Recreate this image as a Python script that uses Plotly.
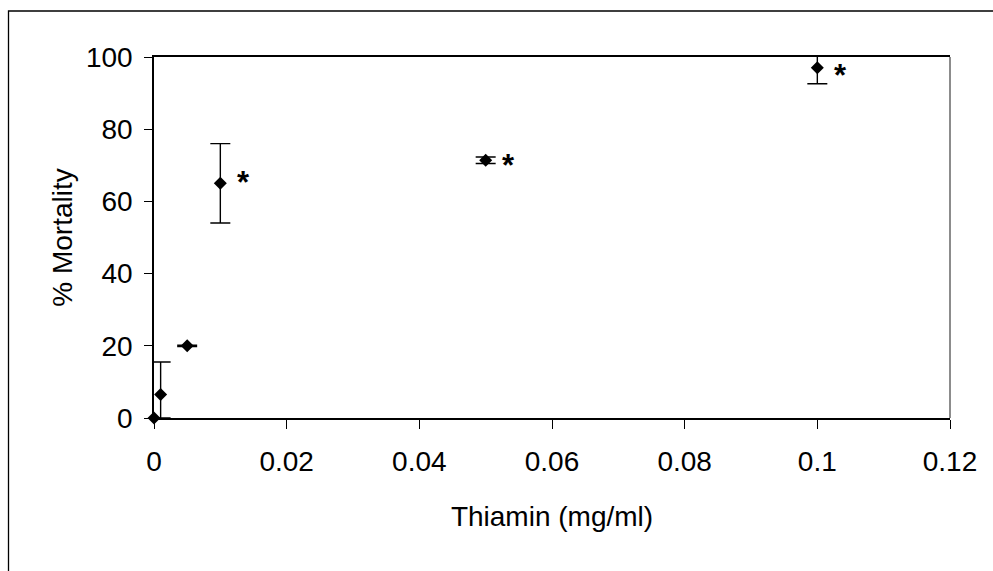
import plotly.graph_objects as go

# Data
thiamin = [0, 0.001, 0.005, 0.01, 0.05, 0.1]          # mg/ml
mortality = [0, 6.5, 20, 65, 71.4, 97]                # % mortality
err_plus = [0, 9.0, 0.2, 11.0, 0.9, 4.4]
err_minus = [0, 6.5, 0.2, 11.0, 0.9, 4.4]
significant = [False, False, False, True, True, True]

x_ticks = [0, 0.02, 0.04, 0.06, 0.08, 0.1, 0.12]
x_tick_labels = ["0", "0.02", "0.04", "0.06", "0.08", "0.1", "0.12"]
y_ticks = [0, 20, 40, 60, 80, 100]

# vertical pixel nudges of the asterisks (style, not data)
asterisk_dy = [0, 0, 0, 1, -5, -8]

FONT = "Liberation Sans, Arial, sans-serif"
FS = 28
W, H = 993, 571
ML, MR, MT, MB = 154, 43, 57, 153

fig = go.Figure()

# error bars (only points that have an error)
ex = [x for x, p in zip(thiamin, err_plus) if p > 0]
ey = [y for y, p in zip(mortality, err_plus) if p > 0]
ep = [p for p in err_plus if p > 0]
em = [m for m, p in zip(err_minus, err_plus) if p > 0]
fig.add_trace(go.Scatter(
    x=ex, y=ey, mode="markers",
    marker=dict(size=1, color="rgba(0,0,0,0)"),
    error_y=dict(type="data", symmetric=False, array=ep, arrayminus=em,
                 color="black", thickness=1.4, width=10),
    cliponaxis=False, showlegend=False, hoverinfo="skip",
))

# markers
fig.add_trace(go.Scatter(
    x=thiamin, y=mortality, mode="markers",
    marker=dict(symbol="diamond", size=10, color="black"),
    cliponaxis=False, showlegend=False,
))

# significance asterisks
for x, y, s, dy in zip(thiamin, mortality, significant, asterisk_dy):
    if s:
        fig.add_annotation(x=x, y=y, text="<b>*</b>", showarrow=False,
                           xshift=23, yshift=dy,
                           font=dict(family=FONT, size=31, color="black"))

# outer chart border
pw = W - ML - MR
ph = H - MT - MB
fig.add_shape(type="rect", xref="paper", yref="paper",
              x0=(8.5 - ML) / pw, x1=(1000 - ML) / pw,
              y0=(H - MB - 580) / ph, y1=1 + (MT - 11) / ph,
              line=dict(color="black", width=1.3), fillcolor="rgba(0,0,0,0)",
              layer="below")
# right edge of plot area (grey)
fig.add_shape(type="line", xref="paper", yref="paper", x0=1, x1=1, y0=0, y1=1,
              line=dict(color="#666666", width=1.5))

fig.update_layout(
    width=W, height=H,
    margin=dict(l=ML, r=MR, t=MT, b=MB),
    paper_bgcolor="white", plot_bgcolor="white",
    font=dict(family=FONT, size=FS, color="black"),
    xaxis=dict(
        range=[0, 0.12], tickvals=x_ticks, ticktext=x_tick_labels,
        showgrid=False, zeroline=False,
        showline=True, linecolor="black", linewidth=1.5, mirror=True,
        ticks="outside", ticklen=9, tickwidth=1, tickcolor="black",
        tickfont=dict(family=FONT, size=FS), ticklabelstandoff=9,
        title=dict(text="Thiamin (mg/ml)", font=dict(family=FONT, size=FS), standoff=30),
    ),
    yaxis=dict(
        range=[0, 100], tickvals=y_ticks,
        showgrid=False, zeroline=False,
        showline=True, linecolor="black", linewidth=1.5,
        ticks="outside", ticklen=8, tickwidth=1, tickcolor="black",
        tickfont=dict(family=FONT, size=FS), ticklabelstandoff=6,
        title=dict(text="% Mortality", font=dict(family=FONT, size=FS), standoff=5),
    ),
)

fig.write_html("out.html")
